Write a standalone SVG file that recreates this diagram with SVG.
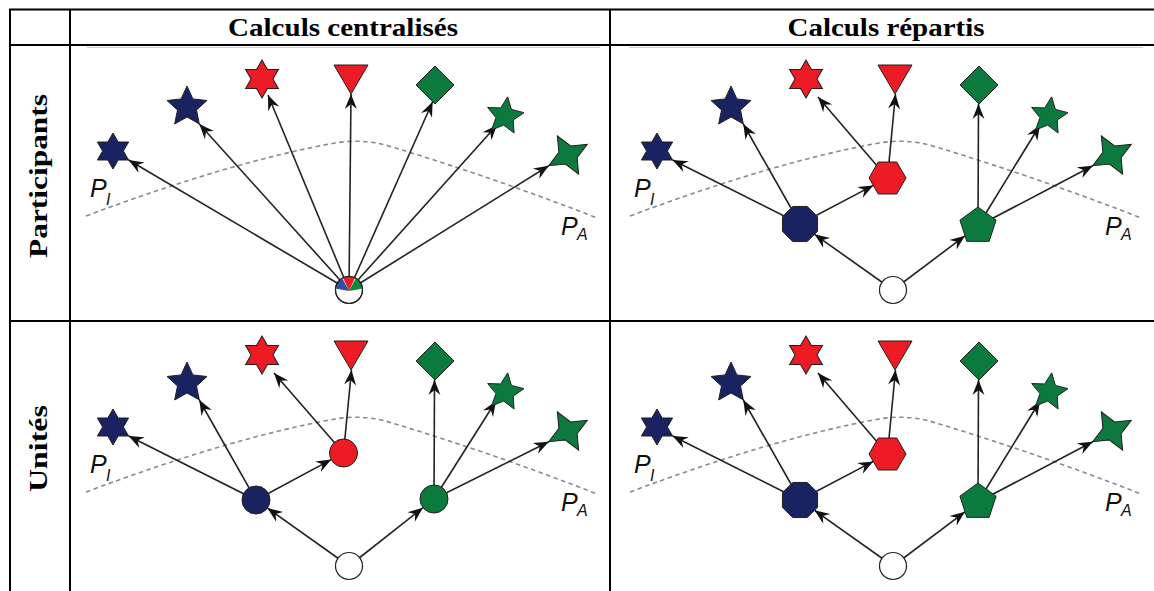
<svg xmlns="http://www.w3.org/2000/svg" xmlns:xlink="http://www.w3.org/1999/xlink" width="1154" height="591" viewBox="0 0 1154 591">
<style>
.grid{stroke:#000;stroke-width:2;fill:none}
.hd{font-family:"Liberation Serif","DejaVu Serif",serif;font-weight:bold;font-size:25px;fill:#000}
.pl{font-family:"Liberation Sans",Arial,sans-serif;font-style:italic;font-size:25px;fill:#111}
.ps{font-family:"Liberation Sans",Arial,sans-serif;font-style:italic;font-size:16px;fill:#111}
.dash{fill:none;stroke:#8a8a8a;stroke-width:1.6;stroke-dasharray:4.5 3.5}
.cn path{fill:none;stroke:#222;stroke-width:1.6;marker-end:url(#ah)}
.n{stroke:#231f20;stroke-width:1}
.b{fill:#1a2362}
.r{fill:#ed1c24}
.g{fill:#0b7a3c}
.w{fill:#fff;stroke:#231f20;stroke-width:1.2}
</style>
<defs>
<marker id="ah" viewBox="-16 -7 18 14" refX="0" refY="0" markerWidth="18" markerHeight="14" markerUnits="userSpaceOnUse" orient="auto">
<path d="M0,0 L-15,-6 L-10,0 L-15,6 Z" fill="#111"/>
</marker>
<path id="s6" d="M0,-18 L5.2,-9 L15.6,-9 L10.4,0 L15.6,9 L5.2,9 L0,18 L-5.2,9 L-15.6,9 L-10.4,0 L-15.6,-9 L-5.2,-9 Z"/>
<path id="s5" d="M0,-21 L5.88,-8.09 L19.97,-6.49 L9.51,3.09 L12.34,16.99 L0,10 L-12.34,16.99 L-9.51,3.09 L-19.97,-6.49 L-5.88,-8.09 Z"/>
<path id="s4" d="M22,0 L6.7,6.7 L0,22 L-6.7,6.7 L-22,0 L-6.7,-6.7 L0,-22 L6.7,-6.7 Z"/>
<path id="tri" d="M-17,-11 L17,-11 L0,18 Z"/>
<path id="dia" d="M0,-19 L19,0 L0,19 L-19,0 Z"/>
<path id="oct" d="M17.55,7.27 L7.27,17.55 L-7.27,17.55 L-17.55,7.27 L-17.55,-7.27 L-7.27,-17.55 L7.27,-17.55 L17.55,-7.27 Z"/>
<path id="hex" d="M18.5,0 L9.25,16 L-9.25,16 L-18.5,0 L-9.25,-16 L9.25,-16 Z"/>
<path id="pent" d="M0,-19 L18.07,-5.87 L11.17,15.37 L-11.17,15.37 L-18.07,-5.87 Z"/>
<path id="curve" d="M86,216 Q230,162 335,143 Q365,138 392,147 Q495,178 597,218"/>
</defs>

<g id="table">
<path class="grid" d="M10,9.5 H1154 M10,45 H1154 M10,321 H1154 M10,8.5 V591 M70,8.5 V591 M610,8.5 V591"/>
<path d="M87,47.5 H600 M629,47.5 H1143" stroke="#d0d0d0" stroke-width="1" fill="none"/>
<text class="hd" x="343" y="36" text-anchor="middle" textLength="230" lengthAdjust="spacingAndGlyphs">Calculs centralisés</text>
<text class="hd" x="886" y="36" text-anchor="middle" textLength="197" lengthAdjust="spacingAndGlyphs">Calculs répartis</text>
<text class="hd" transform="translate(47,176) rotate(-90)" text-anchor="middle" textLength="164" lengthAdjust="spacingAndGlyphs">Participants</text>
<text class="hd" transform="translate(47,448.5) rotate(-90)" text-anchor="middle" textLength="87" lengthAdjust="spacingAndGlyphs">Unités</text>
</g>

<g id="boundaries">
<use xlink:href="#curve" class="dash"/>
<use xlink:href="#curve" class="dash" transform="translate(544,0)"/>
<use xlink:href="#curve" class="dash" transform="translate(0,276)"/>
<use xlink:href="#curve" class="dash" transform="translate(544,276)"/>
<text class="pl" x="90" y="197">P</text><text class="ps" x="106" y="205">I</text>
<text class="pl" x="561" y="235">P</text><text class="ps" x="577" y="240">A</text>
<text class="pl" x="634" y="197">P</text><text class="ps" x="650" y="205">I</text>
<text class="pl" x="1105" y="235">P</text><text class="ps" x="1121" y="240">A</text>
<text class="pl" x="90" y="473">P</text><text class="ps" x="106" y="481">I</text>
<text class="pl" x="561" y="511">P</text><text class="ps" x="577" y="516">A</text>
<text class="pl" x="634" y="473">P</text><text class="ps" x="650" y="481">I</text>
<text class="pl" x="1105" y="511">P</text><text class="ps" x="1121" y="516">A</text>
</g>

<g id="connectors" class="cn">
<path d="M349,290 L128.6,160"/>
<path d="M349,290 L199.3,124"/>
<path d="M349,290 L268,95"/>
<path d="M349,290 L351,94"/>
<path d="M349,290 L432.6,101.7"/>
<path d="M349,290 L497,125"/>
<path d="M349,290 L548.8,165.7"/>

<path d="M893,290 L814.5,234.3"/>
<path d="M893,290 L965,235.8"/>
<path d="M800,224 L672.6,160"/>
<path d="M800,224 L743.3,124"/>
<path d="M800,224 L873.3,185.4"/>
<path d="M887.5,178 L818,97"/>
<path d="M887.5,178 L895.5,94"/>
<path d="M978,226 L978.5,104"/>
<path d="M978,226 L1040,125"/>
<path d="M978,226 L1092.8,165.7"/>

<path d="M349,566 L267.4,508.1"/>
<path d="M349,566 L423,507.7"/>
<path d="M256,500 L128.6,436"/>
<path d="M256,500 L199.3,400"/>
<path d="M256,500 L331.2,459.6"/>
<path d="M343.5,453 L274,373"/>
<path d="M343.5,453 L351.5,370"/>
<path d="M434,499 L434.5,380"/>
<path d="M434,499 L496,401"/>
<path d="M434,499 L548.8,441.7"/>

<path d="M893,566 L814.5,510.3"/>
<path d="M893,566 L965,511.8"/>
<path d="M800,500 L672.6,436"/>
<path d="M800,500 L743.3,400"/>
<path d="M800,500 L873.3,461.4"/>
<path d="M887.5,454 L818,373"/>
<path d="M887.5,454 L895.5,370"/>
<path d="M978,502 L978.5,380"/>
<path d="M978,502 L1040,401"/>
<path d="M978,502 L1092.8,441.7"/>
</g>

<!-- top-left: participants / centralises -->
<g id="tl-source">
<circle class="w" cx="349" cy="290" r="13.5"/>
<path d="M349,291 L336.2,288.8 A13,13 0 0 1 342.5,278.8 Z" fill="#2f4da6"/>
<path d="M349,291 L343.2,278.3 A13,13 0 0 1 354.8,278.3 Z" fill="#ed1c24"/>
<path d="M349,291 L355.6,278.8 A13,13 0 0 1 361.8,288.8 Z" fill="#0b8a3c"/>
<circle cx="349" cy="290" r="13.5" fill="none" stroke="#231f20" stroke-width="1.2"/>
</g>
<g id="tl-b6"><use xlink:href="#s6" class="n b" transform="translate(113,151)"/></g>
<g id="tl-b5"><use xlink:href="#s5" class="n b" transform="translate(187,107)"/></g>
<g id="tl-r6"><use xlink:href="#s6" class="n r" transform="translate(262,79) scale(1.05)"/></g>
<g id="tl-tri"><use xlink:href="#tri" class="n r" transform="translate(351,76)"/></g>
<g id="tl-dia"><use xlink:href="#dia" class="n g" transform="translate(435,85)"/></g>
<g id="tl-g5"><use xlink:href="#s5" class="n g" transform="translate(505,116) rotate(8) scale(0.92)"/></g>
<g id="tl-g4"><use xlink:href="#s4" class="n g" transform="translate(568,155) rotate(-29)"/></g>

<!-- top-right: participants / repartis -->
<g id="tr-source"><circle class="w" cx="893" cy="290" r="13.5"/></g>
<g id="tr-oct"><use xlink:href="#oct" class="n b" transform="translate(800,224)"/></g>
<g id="tr-hex"><use xlink:href="#hex" class="n r" transform="translate(887.5,178)"/></g>
<g id="tr-pent"><use xlink:href="#pent" class="n g" transform="translate(978,226)"/></g>
<g id="tr-b6"><use xlink:href="#s6" class="n b" transform="translate(657,151)"/></g>
<g id="tr-b5"><use xlink:href="#s5" class="n b" transform="translate(731,107)"/></g>
<g id="tr-r6"><use xlink:href="#s6" class="n r" transform="translate(806,79) scale(1.05)"/></g>
<g id="tr-tri"><use xlink:href="#tri" class="n r" transform="translate(895,76)"/></g>
<g id="tr-dia"><use xlink:href="#dia" class="n g" transform="translate(979,85)"/></g>
<g id="tr-g5"><use xlink:href="#s5" class="n g" transform="translate(1049,116) rotate(8) scale(0.92)"/></g>
<g id="tr-g4"><use xlink:href="#s4" class="n g" transform="translate(1112,155) rotate(-29)"/></g>

<!-- bottom-left: unites / centralises -->
<g id="bl-source"><circle class="w" cx="349" cy="566" r="13.5"/></g>
<g id="bl-blue"><circle class="n b" cx="256" cy="500" r="14"/></g>
<g id="bl-red"><circle class="n r" cx="343.5" cy="453" r="14"/></g>
<g id="bl-green"><circle class="n g" cx="434" cy="499" r="14"/></g>
<g id="bl-b6"><use xlink:href="#s6" class="n b" transform="translate(113,427)"/></g>
<g id="bl-b5"><use xlink:href="#s5" class="n b" transform="translate(187,383)"/></g>
<g id="bl-r6"><use xlink:href="#s6" class="n r" transform="translate(262,355) scale(1.05)"/></g>
<g id="bl-tri"><use xlink:href="#tri" class="n r" transform="translate(351,352)"/></g>
<g id="bl-dia"><use xlink:href="#dia" class="n g" transform="translate(435,361)"/></g>
<g id="bl-g5"><use xlink:href="#s5" class="n g" transform="translate(505,392) rotate(8) scale(0.92)"/></g>
<g id="bl-g4"><use xlink:href="#s4" class="n g" transform="translate(568,431) rotate(-29)"/></g>

<!-- bottom-right: unites / repartis -->
<g id="br-source"><circle class="w" cx="893" cy="566" r="13.5"/></g>
<g id="br-oct"><use xlink:href="#oct" class="n b" transform="translate(800,500)"/></g>
<g id="br-hex"><use xlink:href="#hex" class="n r" transform="translate(887.5,454)"/></g>
<g id="br-pent"><use xlink:href="#pent" class="n g" transform="translate(978,502)"/></g>
<g id="br-b6"><use xlink:href="#s6" class="n b" transform="translate(657,427)"/></g>
<g id="br-b5"><use xlink:href="#s5" class="n b" transform="translate(731,383)"/></g>
<g id="br-r6"><use xlink:href="#s6" class="n r" transform="translate(806,355) scale(1.05)"/></g>
<g id="br-tri"><use xlink:href="#tri" class="n r" transform="translate(895,352)"/></g>
<g id="br-dia"><use xlink:href="#dia" class="n g" transform="translate(979,361)"/></g>
<g id="br-g5"><use xlink:href="#s5" class="n g" transform="translate(1049,392) rotate(8) scale(0.92)"/></g>
<g id="br-g4"><use xlink:href="#s4" class="n g" transform="translate(1112,431) rotate(-29)"/></g>
</svg>
